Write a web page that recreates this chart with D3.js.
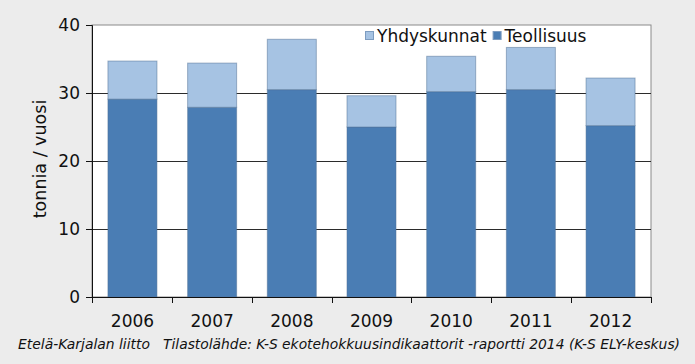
<!DOCTYPE html>
<style>
    body { margin: 0; background: #ececec; }
    svg text { font-family: Verdana, "DejaVu Sans", sans-serif; fill: #111; }
</style>
<svg width="695" height="364"></svg>
<script src="https://d3js.org/d3.v7.min.js"></script>
<script>
    var years = ["2006", "2007", "2008", "2009", "2010", "2011", "2012"];
    var teollisuus = [29.1, 27.9, 30.5, 25.0, 30.2, 30.5, 25.2];
    var yhdyskunnat = [5.6, 6.5, 7.4, 4.6, 5.2, 6.2, 7.0];
    var yTicks = [0, 10, 20, 30, 40];
    var seriesNames = ["Yhdyskunnat", "Teollisuus"];
    var colors = { Teollisuus: "#4a7db4", Yhdyskunnat: "#a6c3e3" };

    var svg = d3.select("svg"),
        margin = { top: 25, right: 44, bottom: 67, left: 92 },
        width = +svg.attr("width") - margin.left - margin.right,
        height = +svg.attr("height") - margin.top - margin.bottom;

    var rows = years.map(function (y, i) {
        return { year: y, Teollisuus: teollisuus[i], Yhdyskunnat: yhdyskunnat[i] };
    });
    var stacked = d3.stack().keys(["Teollisuus", "Yhdyskunnat"])(rows);

    var x = d3.scaleBand().domain(years).range([0, width]).paddingInner(0.385).paddingOuter(0.2);
    var y = d3.scaleLinear().domain([0, 40]).range([height, 0]);

    var g = svg.append("g")
        .attr("transform", "translate(" + margin.left + "," + margin.top + ")");

    // plot area
    g.append("rect")
        .attr("width", width).attr("height", height)
        .attr("fill", "#fff").attr("stroke", "#8a8a8a").attr("stroke-width", 1);

    // gridlines
    g.selectAll(".grid")
        .data(yTicks.slice(1, 4))
        .enter().append("line")
        .attr("x1", 0).attr("x2", width)
        .attr("y1", function (d) { return Math.round(y(d)) + 0.5; })
        .attr("y2", function (d) { return Math.round(y(d)) + 0.5; })
        .attr("stroke", "#2b2b2b").attr("stroke-width", 1);

    g.selectAll(".layer")
        .data(stacked)
        .enter().append("g")
        .attr("fill", function (d) { return colors[d.key]; })
        .selectAll("rect")
        .data(function (d) { return d; })
        .enter().append("rect")
        .attr("x", function (d) { return x(d.data.year); })
        .attr("width", x.bandwidth())
        .attr("y", function (d) { return y(d[1]); })
        .attr("height", function (d) { return y(d[0]) - y(d[1]); })
        .attr("stroke", "#4f6f94").attr("stroke-opacity", 0.5).attr("stroke-width", 1);

    // axes
    var yAxis = g.append("g")
        .call(d3.axisLeft(y).tickValues(yTicks).tickSize(6).tickPadding(6));
    yAxis.select(".domain").attr("stroke", "#111");
    yAxis.selectAll("line").attr("stroke", "#111");
    yAxis.selectAll("text").style("font-size", "17px");

    var xAxis = g.append("g")
        .attr("transform", "translate(0," + height + ")")
        .call(d3.axisBottom(x).tickSize(0).tickPadding(18));
    xAxis.select(".domain").attr("stroke", "#111");
    xAxis.selectAll("text").style("font-size", "17px");

    // category separator ticks
    var bounds = d3.range(years.length + 1).map(function (i) { return i * width / years.length; });
    xAxis.selectAll(".sep")
        .data(bounds)
        .enter().append("line")
        .attr("x1", function (d) { return Math.round(d) + 0.5; })
        .attr("x2", function (d) { return Math.round(d) + 0.5; })
        .attr("y1", 0).attr("y2", 6)
        .attr("stroke", "#111");

    // y label
    svg.append("text")
        .attr("transform", "translate(46,159) rotate(-90)")
        .attr("text-anchor", "middle")
        .style("font-size", "17.5px")
        .text("tonnia / vuosi");

    // legend
    var legend = svg.append("g").attr("transform", "translate(365,31)");
    var lx = 0;
    seriesNames.forEach(function (name) {
        legend.append("rect")
            .attr("x", lx + 0.5).attr("y", 0.5)
            .attr("width", 8).attr("height", 8)
            .attr("fill", colors[name]).attr("stroke", "#7d9cc0");
        var t = legend.append("text")
            .attr("x", lx + 12).attr("y", 11)
            .style("font-size", "17px")
            .text(name);
        lx += 12 + t.node().getComputedTextLength() + 6;
    });

    // source
    svg.append("text")
        .attr("x", 18).attr("y", 349)
        .attr("textLength", 132).attr("lengthAdjust", "spacingAndGlyphs")
        .style("font-size", "13.5px")
        .style("font-style", "italic")
        .text("Etelä-Karjalan liitto");
    svg.append("text")
        .attr("x", 163).attr("y", 349)
        .attr("textLength", 517).attr("lengthAdjust", "spacingAndGlyphs")
        .style("font-size", "13.5px")
        .style("font-style", "italic")
        .text("Tilastolähde: K-S ekotehokkuusindikaattorit -raportti 2014 (K-S ELY-keskus)");
</script>
